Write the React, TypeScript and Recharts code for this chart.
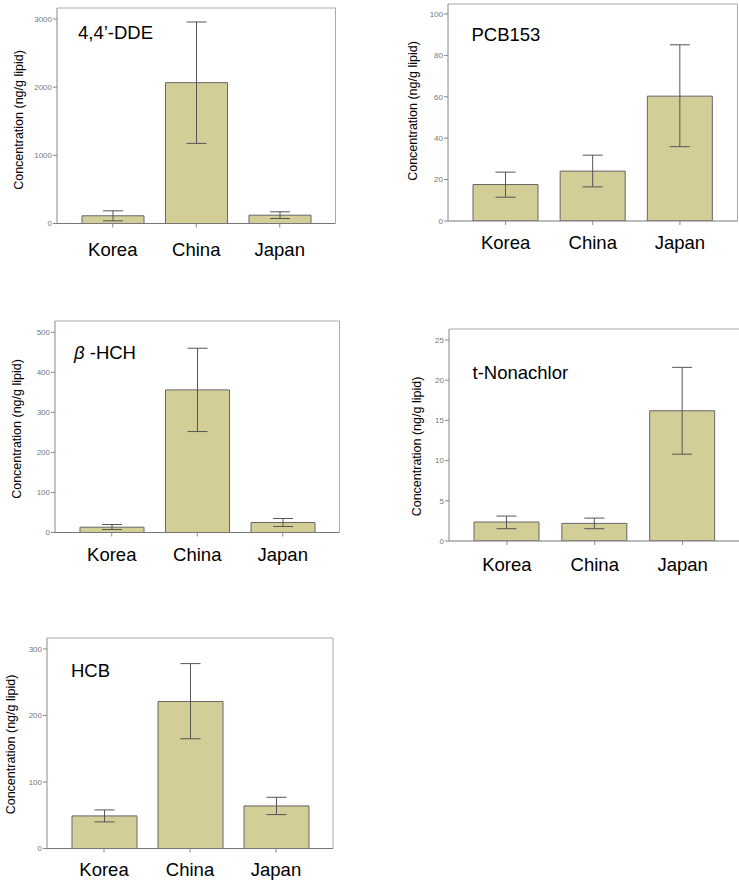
import { BarChart, Bar, Line, XAxis, YAxis, ErrorBar } from 'recharts';

const countries = ['Korea', 'China', 'Japan'];

// mean and 95% CI (low / high) per country
const ddeMean = [113, 2066, 122];
const ddeLow = [39, 1175, 73];
const ddeHigh = [186, 2956, 171];

const pcbMean = [17.6, 24.1, 60.3];
const pcbLow = [11.5, 16.5, 35.9];
const pcbHigh = [23.6, 31.8, 85.1];

const hchMean = [13.3, 356, 25];
const hchLow = [7.5, 252, 15];
const hchHigh = [20, 460, 35];

const nonaMean = [2.36, 2.19, 16.2];
const nonaLow = [1.53, 1.53, 10.8];
const nonaHigh = [3.1, 2.85, 21.6];

const hcbMean = [49, 221, 64];
const hcbLow = [40, 165, 51];
const hcbHigh = [58, 278, 77];

const ddeTicks = [0, 1000, 2000, 3000];
const pcbTicks = [0, 20, 40, 60, 80, 100];
const hchTicks = [0, 100, 200, 300, 400, 500];
const nonaTicks = [0, 5, 10, 15, 20, 25];
const hcbTicks = [0, 100, 200, 300];

const FONT = 'Arial, "Liberation Sans", sans-serif';
const BAR_FILL = '#D3CD97';
const Y_LABEL = 'Concentration (ng/g lipid)';

function build(mean: number[], low: number[], high: number[]) {
  return countries.map((c, i) => ({
    country: c,
    mean: mean[i],
    err: [mean[i] - low[i], high[i] - mean[i]],
  }));
}

interface PanelProps {
  data: { country: string; mean: number; err: number[] }[];
  frame: { l: number; t: number; r: number; b: number };
  yMax: number;
  ticks: number[];
  barSize: number;
  labelGap: number;
}

function Panel({ data, frame, yMax, ticks, barSize, labelGap }: PanelProps) {
  const yw = 60;
  const w = frame.r - frame.l + yw + 5;
  const h = frame.b - frame.t + 5 + 40;
  return (
    <div style={{ position: 'absolute', left: frame.l - yw, top: frame.t - 5 }}>
      <BarChart width={w} height={h} data={data} margin={{ top: 4, right: 4, left: 0, bottom: 0 }}>
        <XAxis
          dataKey="country"
          height={40}
          padding={{ left: 14, right: 14 }}
          axisLine={{ stroke: '#777' }}
          tickLine={{ stroke: '#888' }}
          tickSize={4}
          tickMargin={labelGap}
          tick={{ fill: '#000', fontSize: 18.5, fontFamily: FONT }}
          interval={0}
        />
        {/* top and right axes only draw the plot frame */}
        <XAxis
          xAxisId="top"
          orientation="top"
          dataKey="country"
          height={1}
          tick={false}
          tickLine={false}
          axisLine={{ stroke: '#aaa' }}
        />
        <YAxis
          width={yw}
          domain={[0, yMax]}
          ticks={ticks}
          allowDataOverflow
          axisLine={{ stroke: '#888' }}
          tickLine={{ stroke: '#888' }}
          tickSize={4}
          tickMargin={1}
          tick={{ fill: '#777', fontSize: 8, fontFamily: FONT }}
        />
        <YAxis
          yAxisId="right"
          orientation="right"
          width={1}
          domain={[0, yMax]}
          tick={false}
          tickLine={false}
          axisLine={{ stroke: '#aaa' }}
        />
        <Bar dataKey="mean" fill={BAR_FILL} stroke="#666" strokeWidth={1} barSize={barSize} isAnimationActive={false}>
          <ErrorBar dataKey="err" width={10} stroke="#555" strokeWidth={1} direction="y" isAnimationActive={false} />
        </Bar>
        <Line
          xAxisId="top"
          yAxisId="right"
          dataKey="mean"
          stroke="none"
          dot={false}
          activeDot={false}
          legendType="none"
          isAnimationActive={false}
        />
      </BarChart>
    </div>
  );
}

const titles = [
  { x: 78, y: 39, text: "4,4’-DDE" },
  { x: 471.5, y: 41, text: 'PCB153' },
  { x: 472.5, y: 378.5, text: 't-Nonachlor' },
  { x: 71, y: 676.5, text: 'HCB' },
];

const yLabels = [
  { x: 19, y: 120 },
  { x: 412.5, y: 111 },
  { x: 17, y: 429 },
  { x: 416.5, y: 446.5 },
  { x: 11, y: 744.5 },
];

export default function App() {
  return (
    <div
      style={{
        position: 'absolute',
        left: 0,
        top: 0,
        width: 739,
        height: 887,
        overflow: 'hidden',
        background: '#fff',
        fontFamily: FONT,
      }}
    >
      <Panel data={build(ddeMean, ddeLow, ddeHigh)} frame={{ l: 56.5, t: 7.5, r: 335, b: 223 }} yMax={3161} ticks={ddeTicks} barSize={62} labelGap={15} />
      <Panel data={build(pcbMean, pcbLow, pcbHigh)} frame={{ l: 447.5, t: 3.5, r: 737, b: 220.5 }} yMax={104.8} ticks={pcbTicks} barSize={65} labelGap={11} />
      <Panel data={build(hchMean, hchLow, hchHigh)} frame={{ l: 55, t: 321, r: 339.5, b: 532.5 }} yMax={528} ticks={hchTicks} barSize={64} labelGap={11} />
      <Panel data={build(nonaMean, nonaLow, nonaHigh)} frame={{ l: 448.5, t: 328.5, r: 740, b: 540.5 }} yMax={26.37} ticks={nonaTicks} barSize={65} labelGap={13} />
      <Panel data={build(hcbMean, hcbLow, hcbHigh)} frame={{ l: 46.5, t: 637.5, r: 332.5, b: 848 }} yMax={316.5} ticks={hcbTicks} barSize={65} labelGap={10.5} />

      <svg width={739} height={887} style={{ position: 'absolute', left: 0, top: 0, pointerEvents: 'none' }}>
        {titles.map((t) => (
          <text key={t.text} x={t.x} y={t.y} fontSize={18.5} fontFamily={FONT} fill="#000">
            {t.text}
          </text>
        ))}
        <text x={74} y={358.5} fontSize={18.5} fontFamily={FONT} fill="#000">
          <tspan fontStyle="italic">β</tspan>
          <tspan> -HCH</tspan>
        </text>
        {yLabels.map((p, i) => (
          <text
            key={i}
            x={p.x}
            y={p.y}
            fontSize={12.5}
            fontFamily={FONT}
            fill="#000"
            textAnchor="middle"
            dominantBaseline="central"
            transform={`rotate(-90 ${p.x} ${p.y})`}
          >
            {Y_LABEL}
          </text>
        ))}
      </svg>
    </div>
  );
}
